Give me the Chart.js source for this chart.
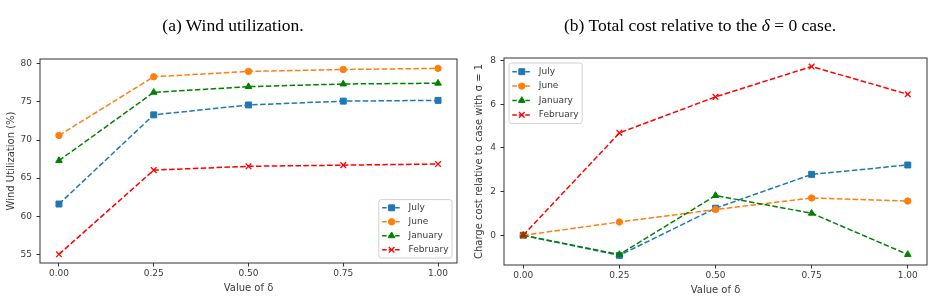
<!DOCTYPE html>
<html>
<head>
<meta charset="utf-8">
<script src="https://cdn.jsdelivr.net/npm/chart.js@4.4.1/dist/chart.umd.min.js"></script>
<style>
html,body{margin:0;padding:0;background:#fff;width:934px;height:301px;overflow:hidden;}
.wrap{position:absolute;top:0;width:467px;height:301px;}
.cap{position:absolute;top:15px;line-height:20px;font-family:"Liberation Serif","Times New Roman",serif;font-size:17.5px;color:#000;white-space:nowrap;transform:translateX(-50%);}
</style>
</head>
<body>
<div class="wrap" style="left:0"><canvas id="cA" width="467" height="301"></canvas></div>
<div class="wrap" style="left:467px"><canvas id="cB" width="467" height="301"></canvas></div>
<div class="cap" style="left:233px">(a) Wind utilization.</div>
<div class="cap" style="left:700px">(b) Total cost relative to the <i>δ</i> = 0 case.</div>
<script>
// ---- data ----
const deltas = [0, 0.25, 0.5, 0.75, 1.0];
const seriesNames = ['July', 'June', 'January', 'February'];
const windJuly     = [61.6, 73.3, 74.6, 75.1, 75.2];
const windJune     = [70.6, 78.3, 79.0, 79.25, 79.4];
const windJanuary  = [67.3, 76.25, 77.0, 77.35, 77.45];
const windFebruary = [55.0, 66.05, 66.55, 66.7, 66.85];
const costJuly     = [0, -0.92, 1.24, 2.79, 3.22];
const costJune     = [0, 0.61, 1.18, 1.71, 1.57];
const costJanuary  = [0, -0.88, 1.82, 1.01, -0.88];
const costFebruary = [0, 4.69, 6.34, 7.73, 6.46];
const xTicks = [0, 0.25, 0.5, 0.75, 1.0];
const windTicks = [55, 60, 65, 70, 75, 80];
const costTicks = [0, 2, 4, 6, 8];

// ---- styles ----
const colors = ['#1f77b4', '#ff7f0e', '#008000', '#ff0000'];
const markers = ['rect', 'circle', 'triangle', 'crossRot'];
const radii = [4.2, 3.2, 3.8, 4.0];
const FONT = '"DejaVu Sans", sans-serif';
const TXT = '#3a3a3a';

function makeDatasets(seriesValues) {
  return seriesValues.map((vals, i) => ({
    label: seriesNames[i],
    data: vals.map((v, k) => ({x: deltas[k], y: v})),
    borderColor: colors[i],
    backgroundColor: colors[i],
    pointBackgroundColor: colors[i],
    pointBorderColor: colors[i],
    borderWidth: 1.5,
    borderDash: [5.5, 2.4],
    pointStyle: markers[i],
    pointRadius: radii[i],
    pointBorderWidth: markers[i] === 'crossRot' ? 1.3 : 1,
    tension: 0,
    fill: false,
    order: 4 - i
  }));
}

const frameAndLegend = {
  id: 'frameAndLegend',
  afterDatasetsDraw(chart, args, opts) {
    const ctx = chart.ctx, ca = chart.chartArea;
    ctx.save();
    // spines
    ctx.strokeStyle = '#333';
    ctx.lineWidth = 1;
    ctx.setLineDash([]);
    ctx.strokeRect(ca.left, ca.top, ca.right - ca.left, ca.bottom - ca.top);
    // legend
    const ds = chart.data.datasets;
    ctx.font = '9px ' + FONT;
    const rowH = opts.rowH, pad = 5, sampleW = 19, gap = 7.5, padL = 3.3, padR = 3.5, padT = opts.padT;
    const tw = Math.max(...ds.map(d => ctx.measureText(d.label).width));
    const w = padL + sampleW + gap + tw + padR;
    const h = padT * 2 + rowH * ds.length;
    let x, y;
    if (opts.loc === 'lower right') { x = ca.right - pad - w; y = ca.bottom - pad - h; }
    else { x = ca.left + pad; y = ca.top + pad; }
    const r = 2.5;
    ctx.beginPath();
    ctx.moveTo(x + r, y);
    ctx.lineTo(x + w - r, y); ctx.quadraticCurveTo(x + w, y, x + w, y + r);
    ctx.lineTo(x + w, y + h - r); ctx.quadraticCurveTo(x + w, y + h, x + w - r, y + h);
    ctx.lineTo(x + r, y + h); ctx.quadraticCurveTo(x, y + h, x, y + h - r);
    ctx.lineTo(x, y + r); ctx.quadraticCurveTo(x, y, x + r, y);
    ctx.closePath();
    ctx.fillStyle = 'rgba(255,255,255,0.85)';
    ctx.fill();
    ctx.strokeStyle = '#d0d0d0';
    ctx.stroke();
    ds.forEach((d, i) => {
      const cy = y + padT + rowH * i + rowH / 2;
      ctx.strokeStyle = d.borderColor;
      ctx.lineWidth = d.borderWidth;
      ctx.setLineDash([4.5, 2]);
      ctx.beginPath();
      ctx.moveTo(x + padL, cy);
      ctx.lineTo(x + padL + sampleW, cy);
      ctx.stroke();
      ctx.setLineDash([]);
      ctx.fillStyle = d.backgroundColor;
      ctx.strokeStyle = d.borderColor;
      ctx.lineWidth = d.pointBorderWidth;
      Chart.helpers.drawPoint(ctx, {pointStyle: d.pointStyle, radius: d.pointRadius, borderWidth: d.pointBorderWidth, rotation: 0}, x + padL + sampleW / 2, cy);
      ctx.fillStyle = TXT;
      ctx.textAlign = 'left';
      ctx.textBaseline = 'middle';
      ctx.fillText(d.label, x + padL + sampleW + gap, cy);
    });
    ctx.restore();
  }
};

function makeChart(id, seriesValues, cfg) {
  return new Chart(document.getElementById(id), {
    type: 'line',
    data: {datasets: makeDatasets(seriesValues)},
    plugins: [frameAndLegend],
    options: {
      responsive: false,
      animation: false,
      events: [],
      layout: {padding: cfg.padding},
      plugins: {
        legend: {display: false},
        tooltip: {enabled: false},
        frameAndLegend: {loc: cfg.legendLoc, rowH: cfg.rowH, padT: cfg.padT}
      },
      scales: {
        x: {
          type: 'linear',
          min: -0.05, max: 1.05,
          afterBuildTicks: ax => { ax.ticks = xTicks.map(v => ({value: v})); },
          afterFit: ax => { ax.height = 32; },
          ticks: {callback: v => Number(v).toFixed(2), font: {family: FONT, size: 9}, color: TXT, padding: cfg.xTickPad, maxRotation: 0, autoSkip: false},
          grid: {display: true, drawOnChartArea: false, drawTicks: true, tickLength: 3.5, color: '#333', lineWidth: 1},
          border: {display: false},
          title: {display: true, text: 'Value of δ', font: {family: FONT, size: 10}, color: TXT, padding: {top: 0, bottom: 1}}
        },
        y: {
          type: 'linear',
          min: cfg.yMin, max: cfg.yMax,
          afterBuildTicks: ax => { ax.ticks = cfg.yTicks.map(v => ({value: v})); },
          afterFit: ax => { ax.width = cfg.yWidth; },
          ticks: {callback: v => String(v), font: {family: FONT, size: 9}, color: TXT, padding: 4.5, autoSkip: false},
          grid: {display: true, drawOnChartArea: false, drawTicks: true, tickLength: 3.5, color: '#333', lineWidth: 1},
          border: {display: false},
          title: {display: true, text: cfg.yTitle, font: {family: FONT, size: 10}, color: TXT, padding: {top: cfg.yTitlePad, bottom: 0}}
        }
      }
    }
  });
}

makeChart('cA', [windJuly, windJune, windJanuary, windFebruary], {
  padding: {left: 0, top: 59, right: 10, bottom: 6},
  yMin: 53.86, yMax: 80.63, yTicks: windTicks, yWidth: 40,
  yTitle: 'Wind Utilization (%)', yTitlePad: 5.7, xTickPad: 1.5,
  legendLoc: 'lower right', rowH: 14, padT: 1.2
});

makeChart('cB', [costJuly, costJune, costJanuary, costFebruary], {
  padding: {left: 0, top: 58, right: 7, bottom: 4},
  yMin: -1.36, yMax: 8.12, yTicks: costTicks, yWidth: 37,
  yTitle: 'Charge cost relative to case with σ = 1', yTitlePad: 6, xTickPad: 2,
  legendLoc: 'upper left', rowH: 14.4, padT: 1.5
});
</script>
</body>
</html>
